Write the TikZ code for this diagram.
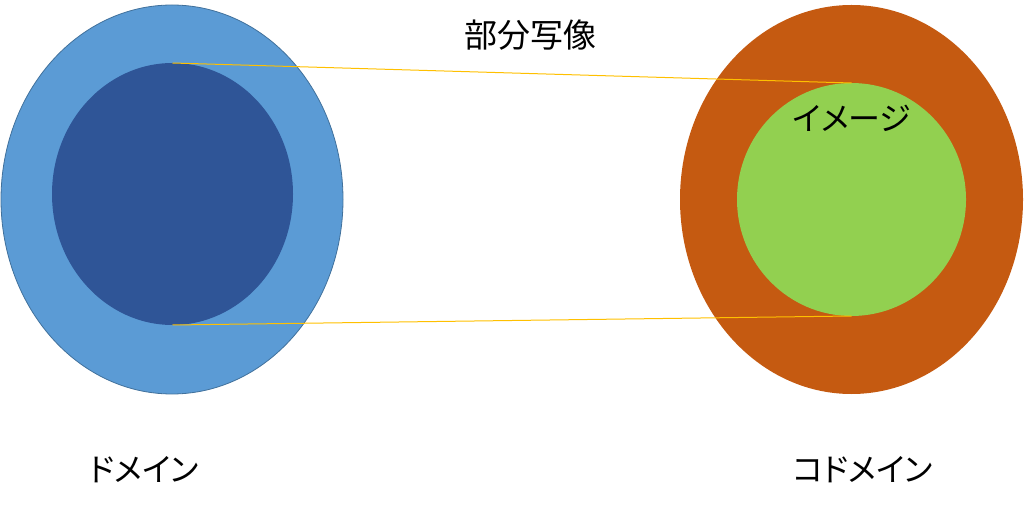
\documentclass[tikz,border=0pt]{standalone}
\usepackage{fontspec}
\newfontfamily\jp{Noto Sans CJK JP}[RawFeature=+palt]
\usetikzlibrary{shapes.geometric}
\definecolor{domfill}{HTML}{5B9BD5}
\definecolor{domedge}{HTML}{41719C}
\definecolor{deffill}{HTML}{2F5597}
\definecolor{codfill}{HTML}{C55A11}
\definecolor{imgfill}{HTML}{92D050}
\definecolor{mapline}{HTML}{FFC000}
\begin{document}
\begin{tikzpicture}[x=1pt,y=-1pt,
    set/.style={ellipse,inner sep=0pt,outer sep=0pt},
    lbl/.style={font=\jp\fontsize{32}{32}\selectfont,inner sep=0pt},
    map/.style={draw=mapline,line width=1pt}]
  \useasboundingbox (0,0) rectangle (1024,510);
  \node[set,fill=domfill,draw=domedge,line width=0.8pt,
    minimum width=342pt,minimum height=389pt] (dom) at (172,199.5) {};
  \node[set,fill=deffill,minimum width=241pt,minimum height=262pt] (def) at (172.5,194) {};
  \node[set,fill=codfill,minimum width=343pt,minimum height=389pt] (cod) at (851.5,199.5) {};
  \node[set,fill=imgfill,minimum width=229pt,minimum height=233pt] (img) at (851.5,199.5) {};
  \node[lbl] (imglbl) at (852,118) {イメージ};
  \node[lbl,font=\jp\fontsize{33}{33}\selectfont] (maplbl) at (530,35) {部分写像};
  \node[lbl] (domlbl) at (144,470) {ドメイン};
  \node[lbl] (codlbl) at (863,470) {コドメイン};
  \begin{scope}[map]
    \draw (def.north) to (img.north);
    \draw (def.south) to (img.south);
  \end{scope}
\end{tikzpicture}
\end{document}
